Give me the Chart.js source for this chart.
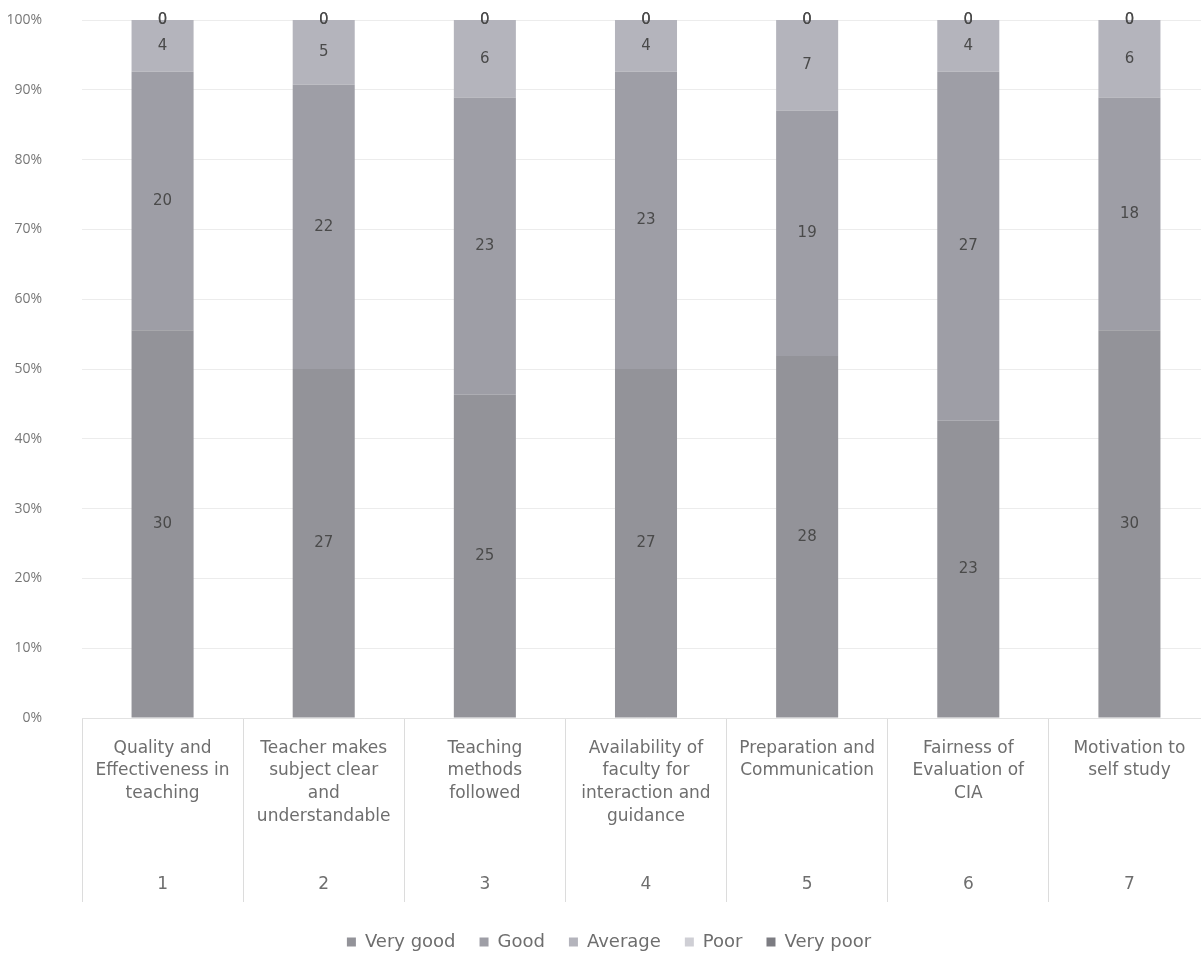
<!DOCTYPE html>
<html>
<head>
<meta charset="utf-8">
<title>Teaching feedback</title>
<script src="https://cdn.jsdelivr.net/npm/chart.js@4"></script>
<style>
  html, body { margin: 0; padding: 0; background: #fff; overflow: hidden; }
  #wrap { width: 1215px; height: 961px; }
</style>
</head>
<body>
<div id="wrap"><canvas id="feedbackChart"></canvas></div>
<script>
'use strict';

// chart data
const categories = [
  ['Quality and', 'Effectiveness in', 'teaching'],
  ['Teacher makes', 'subject clear', 'and', 'understandable'],
  ['Teaching', 'methods', 'followed'],
  ['Availability of', 'faculty for', 'interaction and', 'guidance'],
  ['Preparation and', 'Communication'],
  ['Fairness of', 'Evaluation of', 'CIA'],
  ['Motivation to', 'self study']
]
const categoryNumbers = ['1', '2', '3', '4', '5', '6', '7']
const veryGood = [30, 27, 25, 27, 28, 23, 30]
const good = [20, 22, 23, 23, 19, 27, 18]
const average = [4, 5, 6, 4, 7, 4, 6]
const poor = [0, 0, 0, 0, 0, 0, 0]
const veryPoor = [0, 0, 0, 0, 0, 0, 0]
const seriesNames = ['Very good', 'Good', 'Average', 'Poor', 'Very poor']
const yTicks = [0, 10, 20, 30, 40, 50, 60, 70, 80, 90, 100]

const seriesValues = [veryGood, good, average, poor, veryPoor]
const seriesColors = ['#939399', '#9e9ea6', '#b4b4bc', '#cfcfd5', '#7c7c82']

// totals per category, used to turn counts into shares of 100%
const totals = categories.map((c, i) => seriesValues.reduce((s, arr) => s + arr[i], 0))

// axis label = category text, blank lines, then the category number on line 7
const LABEL_LINES = 7
const axisLabels = categories.map((lines, i) => {
  const blanks = new Array(LABEL_LINES - 1 - lines.length).fill('')
  return [...lines, ...blanks, categoryNumbers[i]]
})

/**
 * Plugin that writes the raw count in the middle of each stacked segment
 */
const segmentLabels = {
  id: 'segmentLabels',
  afterDatasetsDraw(chart) {
    const ctx = chart.ctx
    ctx.save()
    ctx.font = '15px "DejaVu Sans"'
    ctx.fillStyle = '#4a4a4a'
    ctx.textAlign = 'center'
    ctx.textBaseline = 'middle'
    chart.data.datasets.forEach((ds, di) => {
      const meta = chart.getDatasetMeta(di)
      meta.data.forEach((bar, i) => {
        const raw = ds.rawValues[i]
        if (raw === null || raw === undefined) return
        const p = bar.getProps(['x', 'y', 'base'], true)
        const y = raw === 0 ? p.y : (p.y + p.base) / 2
        ctx.fillText(String(raw), p.x, y)
      })
    })
    ctx.restore()
  }
}

const datasets = seriesNames.map((name, k) => ({
  label: name,
  data: seriesValues[k].map((v, i) => v / totals[i] * 100),
  rawValues: seriesValues[k],
  backgroundColor: seriesColors[k],
  borderWidth: 0,
  barPercentage: 0.385,
  categoryPercentage: 1
}))

const config = {
  type: 'bar',
  data: { labels: axisLabels, datasets: datasets },
  options: {
    responsive: true,
    maintainAspectRatio: false,
    animation: false,
    layout: { padding: { top: 20, left: 8, right: 5, bottom: 0 } },
    scales: {
      x: {
        stacked: true,
        // separators run down through the label block, like a table
        afterFit: (axis) => { axis.height = 191 },
        grid: {
          offset: true,
          drawOnChartArea: false,
          tickLength: 184,
          color: '#dcdcdc'
        },
        border: { color: '#e2e2e2' },
        ticks: {
          autoSkip: false,
          maxRotation: 0,
          padding: -165,
          color: '#6e6e6e',
          font: { family: 'DejaVu Sans', size: 17, lineHeight: 1.335 }
        }
      },
      y: {
        stacked: true,
        min: 0,
        max: 100,
        afterBuildTicks: (axis) => { axis.ticks = yTicks.map(v => ({ value: v })) },
        afterFit: (axis) => {
          axis.width = 74
          axis.paddingTop = 8
          axis.paddingBottom = 8
        },
        grid: { color: '#ececec', drawTicks: false },
        border: { display: false },
        ticks: {
          padding: 40,
          color: '#777',
          font: { family: 'Open Sans', size: 14 },
          callback: (v) => v + '%'
        }
      }
    },
    plugins: {
      legend: {
        position: 'bottom',
        labels: {
          boxWidth: 9,
          boxHeight: 9,
          padding: 24,
          color: '#6e6e6e',
          font: { family: 'DejaVu Sans', size: 18 }
        }
      },
      tooltip: { enabled: false }
    }
  },
  plugins: [segmentLabels]
}

// create the chart once the page is ready
document.addEventListener('DOMContentLoaded', () => {
  new Chart(document.getElementById('feedbackChart'), config)
})
</script>
</body>
</html>
